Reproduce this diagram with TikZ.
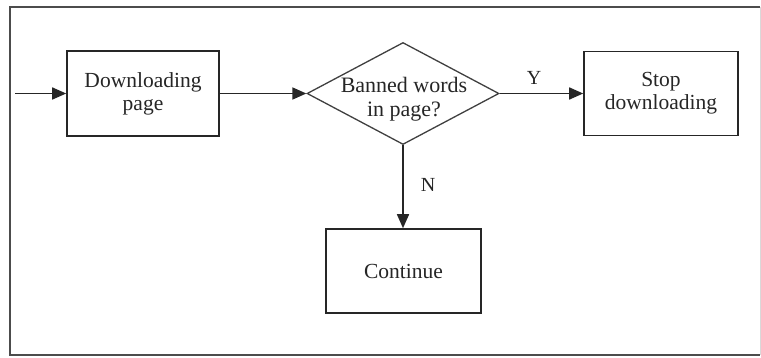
\documentclass[tikz,border=0pt]{standalone}
\usepackage{fontspec}
\setmainfont{Liberation Serif}
\usetikzlibrary{arrows.meta,shapes.geometric}
\begin{document}
\begin{tikzpicture}[x=1pt,y=-1pt,
  txt/.style={align=center,font=\fontsize{21.5}{23}\selectfont,text=black!85},
  box/.style={txt,draw=black!85,line width=1.6pt,rectangle,inner sep=0pt},
  dec/.style={draw=black!75,line width=1.3pt,diamond,inner sep=0pt,
    minimum width=192pt,minimum height=102pt},
  flow/.style={draw=black!85,line width=1.6pt,-{Triangle[length=14pt,width=12pt]}},
  lbl/.style={font=\fontsize{20}{22}\selectfont,text=black!85}]
\useasboundingbox (0,0) rectangle (761,358);
\fill[white] (0,0) rectangle (761,358);
\draw[black!70,line width=2pt] (760,7) -- (10,7) -- (10,355) -- (760,355);
\draw[black!15,line width=1pt] (760,7) -- (760,355);
\node[box,minimum width=152pt,minimum height=85pt] (dl) at (143,93.5) {Downloading\\page};
\node[dec] (ban) at (403,93.5) {};
\node[txt,font=\fontsize{22}{24.5}\selectfont] (bantext) at (404,99) {Banned words\\in page?};
\node[box,minimum width=154pt,minimum height=84pt] (stop) at (661,93.5) {Stop\\downloading};
\node[box,minimum width=155pt,minimum height=84pt] (cont) at (403.5,271) {Continue};
\coordinate (in) at (15,93.5);
\draw[flow] (in) -- (dl.west);
\draw[flow] (dl.east) -- (ban.west);
\draw[flow] (ban.east) -- (stop.west);
\draw[flow] (ban.south) -- (ban.south |- cont.north);
\node[lbl] (y) at (534,78) {Y};
\node[lbl] (n) at (428,185) {N};
\end{tikzpicture}
\end{document}
